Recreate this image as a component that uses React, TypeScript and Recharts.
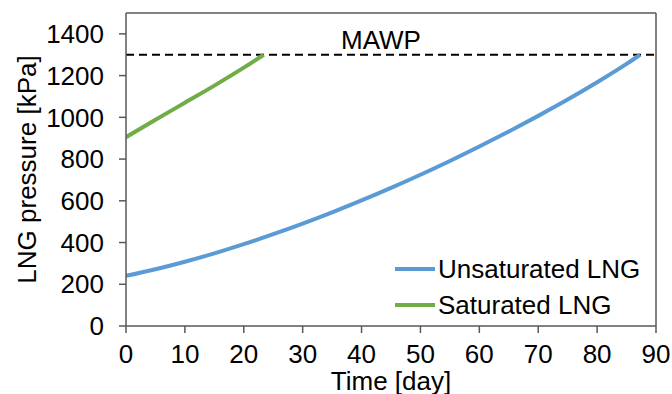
import {
  LineChart,
  Line,
  XAxis,
  YAxis,
  ReferenceLine,
  Legend,
} from "recharts";

const days = [0, 5, 10, 15, 20, 25, 30, 35, 40, 45, 50, 55, 60, 65, 70, 75, 80, 85, 87.3];
const unsaturated = [240, 272, 308, 348, 392, 440, 491, 545, 602, 662, 725, 791, 860, 932, 1007, 1085, 1168, 1256, 1300];

const satDays = [0, 5, 10, 15, 20, 23.4];
const saturated = [905, 988, 1070, 1152, 1238, 1300];

const xTicks = [0, 10, 20, 30, 40, 50, 60, 70, 80, 90];
const yTicks = [0, 200, 400, 600, 800, 1000, 1200, 1400];
const MAWP = 1300;

const unsatData = days.map((d, i) => ({ day: d, p: unsaturated[i] }));
const satData = satDays.map((d, i) => ({ day: d, p: saturated[i] }));

const AXIS = "#595959";
const FONT = '"Liberation Sans", Arial, sans-serif';
const FS = 26;

const series = [
  { name: "Unsaturated LNG", color: "#5B9BD5" },
  { name: "Saturated LNG", color: "#70AD47" },
];

function LegendBox() {
  return (
    <div style={{ fontFamily: FONT, fontSize: FS, color: "#000" }}>
      {series.map((s) => (
        <div key={s.name} style={{ display: "flex", alignItems: "center", height: 36 }}>
          <span style={{ width: 40, height: 4, background: s.color, marginRight: 3 }} />
          <span>{s.name}</span>
        </div>
      ))}
    </div>
  );
}

export default function App() {
  return (
    <div style={{ position: "absolute", left: 0, top: 0, width: 672, height: 394, background: "#fff", fontFamily: FONT }}>
      <LineChart width={672} height={394} margin={{ top: 13, right: 16, bottom: 0, left: 0 }}>
        <XAxis
          type="number"
          dataKey="day"
          domain={[0, 90]}
          ticks={xTicks}
          height={68}
          tickSize={7}
          tickMargin={12}
          stroke={AXIS}
          strokeWidth={1.5}
          tick={{ fill: "#000", fontSize: FS }}
          allowDataOverflow
          label={{ value: "Time [day]", position: "insideBottom", offset: 4, fill: "#000", fontSize: FS }}
        />
        <YAxis
          type="number"
          domain={[0, 1500]}
          ticks={yTicks}
          width={126}
          tickSize={7}
          tickMargin={15}
          stroke={AXIS}
          strokeWidth={1.5}
          tick={{ fill: "#000", fontSize: FS }}
          allowDataOverflow
          label={{
            value: "LNG pressure [kPa]",
            angle: -90,
            position: "insideLeft",
            offset: 27,
            fill: "#000",
            fontSize: FS,
            style: { textAnchor: "middle" },
          }}
        />
        <ReferenceLine y={1500} stroke={AXIS} strokeWidth={1.5} />
        <ReferenceLine x={90} stroke={AXIS} strokeWidth={1.5} />
        <ReferenceLine
          y={MAWP}
          stroke="#000"
          strokeWidth={2}
          strokeDasharray="8 5"
          label={{ value: "MAWP", position: "top", offset: 6, dx: -10, fill: "#000", fontSize: FS }}
        />
        <Line
          data={unsatData}
          dataKey="p"
          name="Unsaturated LNG"
          type="monotone"
          stroke="#5B9BD5"
          strokeWidth={4}
          dot={false}
          isAnimationActive={false}
        />
        <Line
          data={satData}
          dataKey="p"
          name="Saturated LNG"
          type="monotone"
          stroke="#70AD47"
          strokeWidth={4}
          dot={false}
          isAnimationActive={false}
        />
        <Legend
          layout="vertical"
          align="center"
          verticalAlign="middle"
          content={() => <LegendBox />}
          wrapperStyle={{ left: 395, top: 251, width: 270 }}
        />
      </LineChart>
    </div>
  );
}
